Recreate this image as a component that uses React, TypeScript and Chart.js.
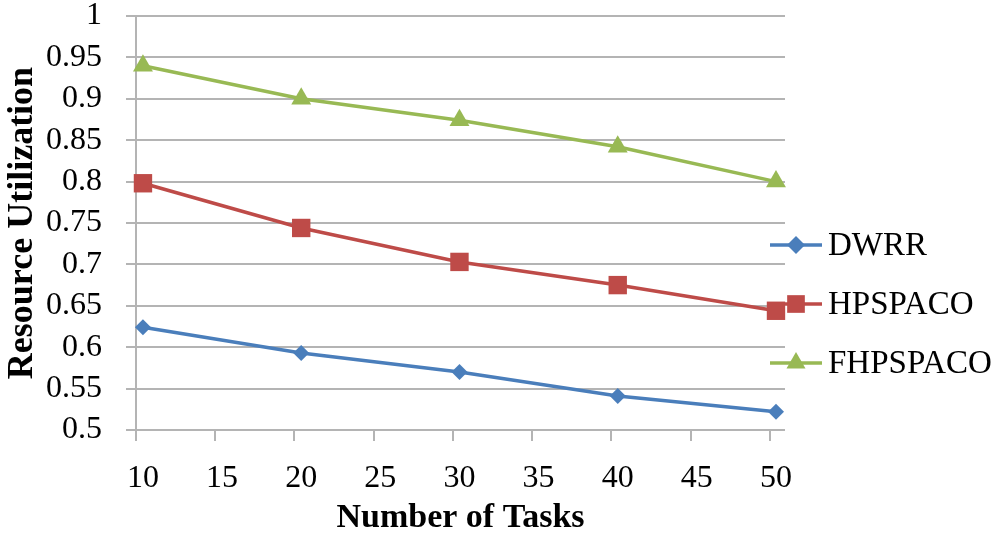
import React, { useEffect, useRef } from "react";
import { Chart, registerables } from "chart.js";

Chart.register(...registerables);

const taskCounts = [10, 20, 30, 40, 50];
const seriesNames = ["DWRR", "HPSPACO", "FHPSPACO"];
const dwrrValues = [0.624, 0.593, 0.570, 0.541, 0.522];
const hpspacoValues = [0.798, 0.744, 0.703, 0.675, 0.644];
const fhpspacoValues = [0.940, 0.900, 0.874, 0.842, 0.800];
const seriesColors = ["#4a7ebb", "#be4b48", "#98b954"];
const seriesMarkers = ["rectRot", "rect", "triangle"];
const markerRadii = [8, 13, 11.5];
const legendMarkerRadii = [9, 12.5, 11];

const FONT = "'Liberation Serif', 'Times New Roman', serif";
const GRID = "#b4b4b4";

function drawMarker(ctx: CanvasRenderingContext2D, style: string, x: number, y: number, r: number) {
  ctx.beginPath();
  if (style === "rectRot") {
    ctx.moveTo(x, y - r);
    ctx.lineTo(x + r, y);
    ctx.lineTo(x, y + r);
    ctx.lineTo(x - r, y);
  } else if (style === "rect") {
    const s = r * Math.SQRT1_2;
    ctx.rect(x - s, y - s, 2 * s, 2 * s);
  } else {
    const h = r * 1.5;
    const w = r * Math.sqrt(3) / 2;
    ctx.moveTo(x, y - r);
    ctx.lineTo(x + w, y + h - r);
    ctx.lineTo(x - w, y + h - r);
  }
  ctx.closePath();
  ctx.fill();
}

const sideLegend = {
  id: "sideLegend",
  afterDraw(chart: any) {
    const ctx = chart.ctx as CanvasRenderingContext2D;
    const area = chart.chartArea;
    const lineStart = area.right - 15;
    const lineEnd = area.right + 37;
    const textX = area.right + 43;
    const firstY = 245;
    const gap = 59;
    ctx.save();
    seriesNames.forEach((name, i) => {
      const y = firstY + i * gap;
      ctx.strokeStyle = seriesColors[i];
      ctx.fillStyle = seriesColors[i];
      ctx.lineWidth = 3.5;
      ctx.beginPath();
      ctx.moveTo(lineStart, y);
      ctx.lineTo(lineEnd, y);
      ctx.stroke();
      drawMarker(ctx, seriesMarkers[i], (lineStart + lineEnd) / 2, y, legendMarkerRadii[i]);
      ctx.fillStyle = "#000";
      ctx.font = `33px ${FONT}`;
      ctx.textAlign = "left";
      ctx.textBaseline = "middle";
      ctx.fillText(name, textX, y + 1);
    });
    ctx.restore();
  },
};

export default function App() {
  const canvasRef = useRef<HTMLCanvasElement | null>(null);

  useEffect(() => {
    if (!canvasRef.current) return;
    const values = [dwrrValues, hpspacoValues, fhpspacoValues];
    const chart = new Chart(canvasRef.current, {
      type: "line",
      data: {
        datasets: seriesNames.map((name, i) => ({
          label: name,
          data: taskCounts.map((x, j) => ({ x, y: values[i][j] })),
          xAxisID: "x",
          borderColor: seriesColors[i],
          backgroundColor: seriesColors[i],
          borderWidth: 3.5,
          pointStyle: seriesMarkers[i] as any,
          pointRadius: markerRadii[i],
          pointBorderWidth: 0,
          pointBackgroundColor: seriesColors[i],
          tension: 0,
          clip: false as any,
        })),
      },
      options: {
        animation: false,
        responsive: true,
        maintainAspectRatio: false,
        layout: { autoPadding: false, padding: { top: 0, right: 215, bottom: 0, left: 0 } },
        plugins: {
          legend: { display: false },
          tooltip: { enabled: false },
        },
        scales: {
          xTicks: {
            type: "linear",
            position: "bottom",
            weight: 0,
            min: 10,
            max: 50.95,
            afterFit: (scale: any) => {
              scale.height = 0;
            },
            ticks: { stepSize: 5, includeBounds: false, display: false },
            grid: {
              drawOnChartArea: false,
              drawTicks: true,
              tickLength: 11,
              color: GRID,
              lineWidth: 2,
            },
            border: { display: false },
          },
          x: {
            type: "linear",
            position: "bottom",
            weight: 1,
            min: 9.56,
            max: 50.57,
            afterFit: (scale: any) => {
              scale.height = 109;
            },
            ticks: {
              stepSize: 5,
              includeBounds: false,
              color: "#000",
              font: { family: FONT, size: 32, lineHeight: 1.15 },
              padding: 18,
              maxRotation: 0,
            },
            grid: {
              drawOnChartArea: false,
              drawTicks: true,
              tickLength: 12,
              color: "rgba(0,0,0,0)",
            },
            border: { display: false },
            title: {
              display: true,
              text: "Number of Tasks",
              color: "#000",
              font: { family: FONT, size: 34, weight: "bold", lineHeight: 1.2 },
              padding: { top: 0, bottom: 0 },
            },
          },
          y: {
            min: 0.5,
            max: 1,
            afterFit: (scale: any) => {
              scale.width = 136;
              scale.paddingTop = 16;
              scale.paddingBottom = 16;
            },
            ticks: {
              stepSize: 0.05,
              color: "#000",
              font: { family: FONT, size: 32, lineHeight: 1.0 },
              padding: 24,
              callback: (v: any) => String(Number(Number(v).toFixed(2))),
            },
            grid: {
              color: GRID,
              lineWidth: 2,
              tickLength: 10,
            },
            border: { display: true, color: GRID, width: 2 },
            title: {
              display: true,
              text: "Resource Utilization",
              color: "#000",
              font: { family: FONT, size: 36, weight: "bold", lineHeight: 1.2 },
              padding: { top: 1, bottom: 3 },
            },
          },
        },
      },
      plugins: [sideLegend],
    });
    return () => chart.destroy();
  }, []);

  return (
    <div style={{ position: "fixed", left: 0, top: 0, width: 1000, height: 539, background: "#fff" }}>
      <canvas ref={canvasRef} />
    </div>
  );
}
